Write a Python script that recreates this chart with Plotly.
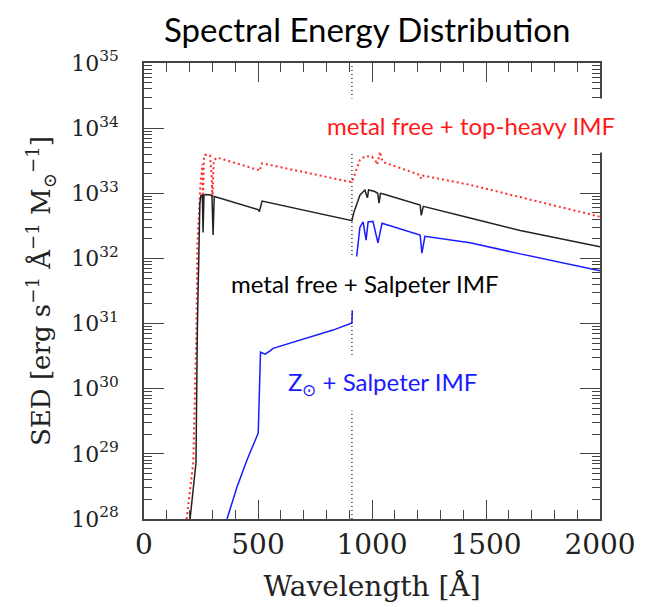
import plotly.graph_objects as go

# ---- data (wavelength in Angstrom, log10 of SED) ----
wl_topheavy = [187, 216, 230, 234, 246, 256, 259, 263, 267, 290, 296, 300, 306, 320, 329,
               500, 506, 518, 912, 930, 947, 969, 1000, 1015, 1022, 1030, 1035, 1040, 1048,
               1211, 1216, 1225, 1298, 1430, 2000]
logsed_topheavy = [28.0, 28.86, 30.9, 32.2, 33.05, 33.45, 32.95, 33.55, 33.59, 33.58, 33.3, 32.94, 33.5, 33.55, 33.54,
                   33.36, 33.34, 33.46, 33.17, 33.35, 33.51, 33.57, 33.56, 33.5, 33.44, 33.55, 33.64, 33.55, 33.48,
                   33.28, 33.22, 33.27, 33.22, 33.13, 32.64]

wl_salpeter = [202, 228, 234, 240, 245, 250, 256, 259, 263, 270, 298, 303, 308, 320,
               500, 506, 518, 912, 920, 935, 947, 960, 969, 975, 980, 985, 995, 1010, 1025, 1031, 1037,
               1050, 1211, 1216, 1225, 1298, 1430, 1650, 2000]
logsed_salpeter = [28.0, 28.86, 30.9, 32.2, 32.85, 32.97, 32.97, 32.4, 32.97, 32.98, 32.97, 32.36, 32.95, 32.94,
                   32.75, 32.72, 32.88, 32.58, 32.70, 32.85, 32.97, 33.02, 33.05, 32.98, 32.93, 33.05, 33.04, 33.03, 33.0, 32.85, 33.0,
                   32.99, 32.82, 32.66, 32.80, 32.74, 32.62, 32.43, 32.18]

wl_solar = [364, 408, 452, 501, 511, 531, 553, 566, 829, 912, 916, 934, 947, 961, 974, 983, 1004,
            1026, 1044, 1211, 1219, 1232, 1298, 1430, 1650, 2000]
logsed_solar = [28.0, 28.49, 28.91, 29.32, 30.56, 30.53, 30.58, 30.62, 30.90, 31.01, 31.5, 32.02, 32.48, 32.56, 32.28, 32.56, 32.57,
                32.24, 32.54, 32.36, 32.08, 32.34, 32.31, 32.24, 32.07, 31.81]

LYMAN_LIMIT = 912
x_ticks = [0, 500, 1000, 1500, 2000]
y_exponents = [28, 29, 30, 31, 32, 33, 34, 35]

fig = go.Figure()
fig.add_trace(go.Scatter(x=wl_topheavy, y=[10.0 ** v for v in logsed_topheavy], mode="lines",
                         line=dict(color="#ff2a2a", width=2, dash="2px,3px"), showlegend=False))
fig.add_trace(go.Scatter(x=wl_salpeter, y=[10.0 ** v for v in logsed_salpeter], mode="lines",
                         line=dict(color="#222222", width=1.5), showlegend=False))
fig.add_trace(go.Scatter(x=wl_solar, y=[10.0 ** v for v in logsed_solar], mode="lines",
                         line=dict(color="#1a1aff", width=1.5), showlegend=False))

fig.add_shape(type="line", xref="x", yref="paper", x0=LYMAN_LIMIT, x1=LYMAN_LIMIT, y0=0, y1=1,
              line=dict(color="#111111", width=1.2, dash="1px,3px"), layer="above")

minor_y = [k * 10.0 ** e for e in y_exponents[:-1] for k in range(2, 10)]

serif = "DejaVu Serif"
sans = "Lato"
axis_common = dict(showline=True, linecolor="#444444", linewidth=1.5, mirror="allticks",
                   ticks="inside", tickcolor="#444444", tickwidth=1.3, showgrid=False, zeroline=False)

fig.update_layout(
    width=655, height=607,
    margin=dict(l=136, r=63, t=55, b=96),
    paper_bgcolor="white", plot_bgcolor="white",
    xaxis=dict(range=[0, 2000], tickvals=x_ticks, ticklen=19,
               minor=dict(dtick=100, ticklen=9, ticks="inside", tickcolor="#444444", tickwidth=1.2),
               tickfont=dict(family=serif, size=28, color="#222222"),
               title=dict(text="Wavelength [Å]", font=dict(family=serif, size=28, color="#222222"), standoff=16),
               **axis_common),
    yaxis=dict(type="log", range=[28, 35], tickvals=[10.0 ** e for e in y_exponents],
               ticktext=["10<sup>%d</sup>" % e for e in y_exponents], ticklen=20,
               minor=dict(tickvals=minor_y, ticklen=8, ticks="inside", tickcolor="#444444", tickwidth=1.2),
               tickfont=dict(family=serif, size=22, color="#222222"), ticklabelstandoff=19,
               title=dict(text="SED [erg s<sup>−1</sup> Å<sup>−1</sup> M<sub>⊙</sub><sup>−1</sup>]",
                          font=dict(family=serif, size=26, color="#222222"), standoff=13),
               **axis_common),
)

fig.add_annotation(text="Spectral Energy Distribution", xref="paper", yref="paper",
                   x=(367 - 144) / 456, y=1 + (63 - 29) / 456, showarrow=False,
                   xanchor="center", yanchor="middle",
                   font=dict(family=sans, size=33, color="black"))
fig.add_annotation(text="metal free + top-heavy IMF", xref="paper", yref="paper",
                   x=(471 - 144) / 456, y=(519 - 125) / 456, showarrow=False,
                   xanchor="center", yanchor="middle",
                   font=dict(family=sans, size=24, color="#ff1a1a"), bgcolor="white", borderpad=12)
fig.add_annotation(text="metal free + Salpeter IMF", xref="paper", yref="paper",
                   x=(365 - 144) / 456, y=(519 - 283) / 456, showarrow=False,
                   xanchor="center", yanchor="middle",
                   font=dict(family=sans, size=24, color="black"), bgcolor="white", borderpad=12)
fig.add_annotation(text="Z<sub>⊙</sub> + Salpeter IMF", xref="paper", yref="paper",
                   x=(382 - 144) / 456, y=(519 - 383) / 456, showarrow=False,
                   xanchor="center", yanchor="middle",
                   font=dict(family=sans, size=24, color="#1a1aff"), bgcolor="white", borderpad=10)

fig.write_html("out.html")
